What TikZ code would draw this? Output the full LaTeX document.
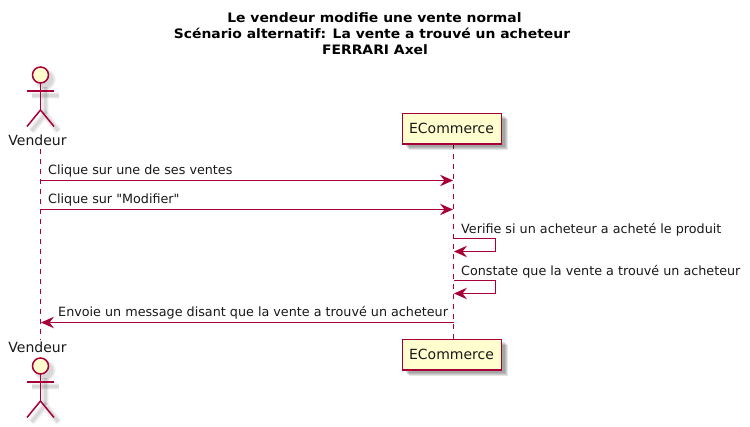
\documentclass[tikz,border=0pt]{standalone}
\usepackage{fontspec}
\setmainfont{DejaVu Sans}
\newfontfamily\bodyfont{DejaVu Sans}
\newfontfamily\titlefont[FakeStretch=1.07]{DejaVu Sans Bold}
\usetikzlibrary{arrows.meta}
\definecolor{umlline}{HTML}{A80036}
\definecolor{umlfill}{HTML}{FEFECE}
\tikzset{
  x=1pt,y=-1pt,
  lifeline/.style={draw=umlline,line width=1pt,dash pattern=on 5pt off 5pt},
  msg/.style={draw=umlline,line width=1pt,-{Stealth[length=13pt,width=11.5pt,inset=4.5pt,fill=umlline]}},
  label/.style={anchor=base west,inner sep=0pt,font=\bodyfont\fontsize{12.75}{14}\selectfont,text=black!90},
  partbox/.style={draw=umlline,fill=umlfill,line width=1.5pt,minimum width=99pt,minimum height=30.5pt,inner sep=0pt},
  boxshadow/.style={fill=black,opacity=0.1,draw=none},
  actorname/.style={anchor=base,inner sep=0pt,font=\bodyfont\fontsize{14}{16}\selectfont,text=black!90},
  titletext/.style={anchor=base,inner sep=0pt,font=\titlefont\fontsize{13}{16}\selectfont,text=black},
  limb/.style={draw=umlline,line width=1.5pt},
  headshape/.style={circle,draw=umlline,fill=umlfill,line width=1.5pt,minimum size=16pt,inner sep=0pt}
}
\newcommand{\actorfig}[2]{%
  \begin{scope}[shift={(40.5,#2)}]
    \foreach \w/\o/\r in {8/0.035/11,5.5/0.05/10,3/0.07/8.5}{
      \begin{scope}[shift={(4.5,4.5)},opacity=\o,draw=black,line width=\w pt]
        \fill[black] (0,0) circle (\r);
        \draw (-13.5,16) -- (13.5,16);
        \draw (0,8) -- (0,35);
        \draw (-13.5,51.5) -- (0,35) -- (13.5,51.5);
      \end{scope}
    }
    \draw[limb] (0,8) -- (0,35);
    \draw[limb] (-13.5,16) -- (13.5,16);
    \draw[limb] (-13.5,51.5) -- (0,35) -- (13.5,51.5);
    \node[headshape] (#1head) at (0,0) {};
  \end{scope}
}
\newcommand{\boxshadowat}[2]{%
  \foreach \d in {3,4,5,6}{
    \fill[boxshadow] (#1-49.5+\d,#2-15.25+\d) rectangle (#1+49.5+\d,#2+15.25+\d);
  }
}
\begin{document}
\begin{tikzpicture}
\useasboundingbox (0,0) rectangle (750,427);
\fill[white] (0,0) rectangle (750,427);

\node[titletext] (t1) at (374.5,22.7) {Le vendeur modifie une vente normal};
\node[titletext] (t2) at (372,38.5) {Scénario alternatif: La vente a trouvé un acheteur};
\node[titletext] (t3) at (375,55) {FERRARI Axel};

\coordinate (vt) at (40.5,149);
\coordinate (vb) at (40.5,340);
\coordinate (et) at (453.5,144);
\coordinate (eb) at (453.5,340);
\draw[lifeline] (vt) -- (vb);
\draw[lifeline] (et) -- (eb);

\actorfig{vtop}{75}
\node[actorname] (vname1) at (37.5,146) {Vendeur};
\actorfig{vbot}{366}
\node[actorname] (vname2) at (37.5,353) {Vendeur};
\boxshadowat{452}{128.75}
\node[partbox] (etop) at (452,128.75) {};
\node[actorname] (etoplab) at (451.5,134) {ECommerce};
\boxshadowat{452}{354.75}
\node[partbox] (ebot) at (452,354.75) {};
\node[actorname] (ebotlab) at (451.5,360) {ECommerce};

\coordinate (v1) at (40.5,180.5); \coordinate (e1) at (453,180.5);
\coordinate (v2) at (40.5,209.5); \coordinate (e2) at (453,209.5);
\coordinate (s1a) at (453.5,238.5); \coordinate (s1b) at (495.5,238.5);
\coordinate (s1c) at (495.5,251.5); \coordinate (s1d) at (454,251.5);
\coordinate (s2a) at (453.5,280.5); \coordinate (s2b) at (495.5,280.5);
\coordinate (s2c) at (495.5,293.5); \coordinate (s2d) at (454,293.5);
\coordinate (e3) at (453.5,322.5); \coordinate (v3) at (41,322.5);

\draw[msg] (v1) -- (e1);
\node[label] (m1) at (48,175) {Clique sur une de ses ventes};
\draw[msg] (v2) -- (e2);
\node[label] (m2) at (48,204) {Clique sur "Modifier"};
\draw[msg] (s1a) -- (s1b) -- (s1c) -- (s1d);
\node[label] (m3) at (461,234) {Verifie si un acheteur a acheté le produit};
\draw[msg] (s2a) -- (s2b) -- (s2c) -- (s2d);
\node[label] (m4) at (461,276) {Constate que la vente a trouvé un acheteur};
\draw[msg] (e3) -- (v3);
\node[label] (m5) at (58,317) {Envoie un message disant que la vente a trouvé un acheteur};
\end{tikzpicture}
\end{document}
